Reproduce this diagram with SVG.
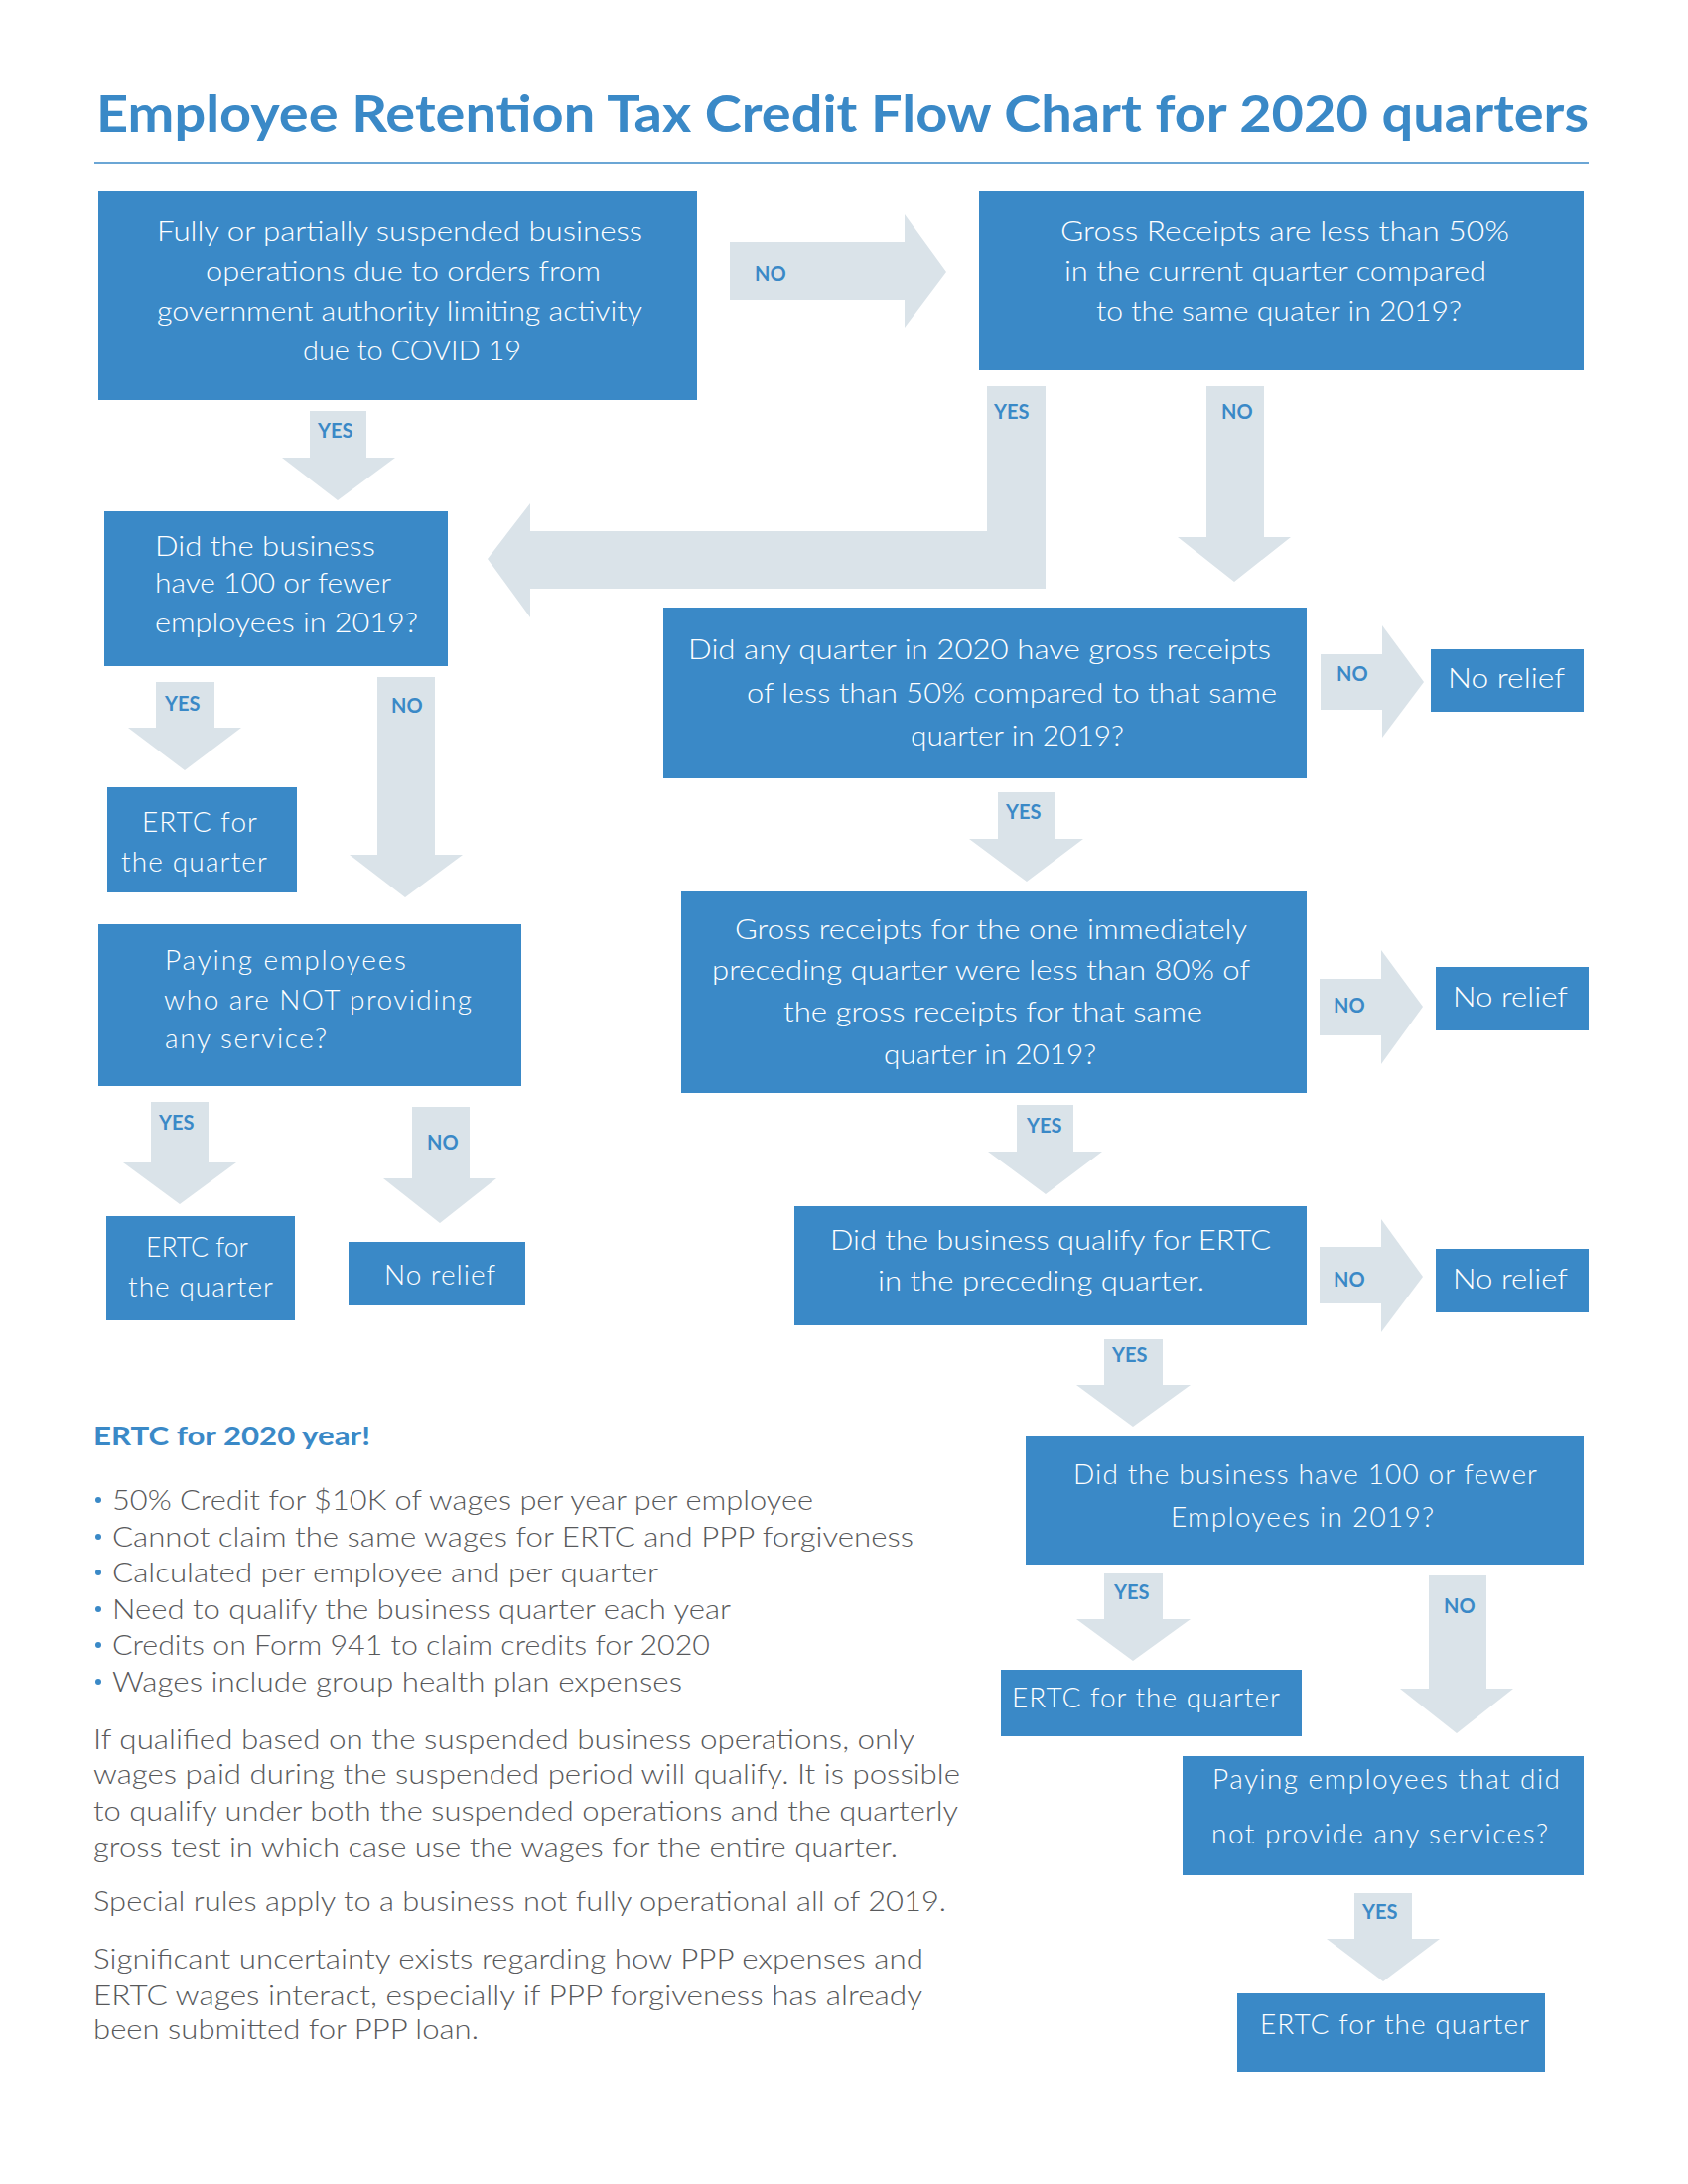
<svg xmlns="http://www.w3.org/2000/svg" width="1700" height="2200" viewBox="0 0 1700 2200">
<style>
.box{fill:#3a89c7}
.arr{fill:#dae3e9}
.bt{font-family:Lato,"Liberation Sans",sans-serif;font-weight:300;font-size:28px;fill:#ffffff}
.lbl{font-family:Lato,"Liberation Sans",sans-serif;font-weight:bold;font-size:20px;fill:#3a89c7}
.ttl{font-family:Lato,"Liberation Sans",sans-serif;font-weight:bold;font-size:51px;fill:#3a89c7}
.hd{font-family:Lato,"Liberation Sans",sans-serif;font-weight:bold;font-size:27px;fill:#3a89c7}
.body{font-family:Lato,"Liberation Sans",sans-serif;font-weight:300;font-size:27px;fill:#58595b}
.dot{fill:#3a89c7}
</style>
<rect width="1700" height="2200" fill="#ffffff"/>
<g id="title">
<text class="ttl" x="97" y="133" textLength="1503" lengthAdjust="spacingAndGlyphs">Employee Retention Tax Credit Flow Chart for 2020 quarters</text>
<line x1="95" y1="164" x2="1600" y2="164" stroke="#3a89c7" stroke-width="1.5"/>
</g>
<g id="connectors">
<polygon class="arr" points="312,414 369,414 369,461 398,461 340,504 284,461 312,461"/>
<text class="lbl" x="320" y="441">YES</text>
<polygon class="arr" points="735,244 911,244 911,216 953,274 911,330 911,302 735,302"/>
<text class="lbl" x="760" y="283">NO</text>
<polygon class="arr" points="994,389 1053,389 1053,593 534,593 534,622 491,563 534,507 534,535 994,535"/>
<text class="lbl" x="1001" y="422">YES</text>
<polygon class="arr" points="1215,389 1273,389 1273,541 1300,541 1243,586 1186,541 1215,541"/>
<text class="lbl" x="1230" y="422">NO</text>
<polygon class="arr" points="1330,659 1392,659 1392,630 1434,687 1392,743 1392,715 1330,715"/>
<text class="lbl" x="1346" y="686">NO</text>
<polygon class="arr" points="1005,798 1063,798 1063,845 1091,845 1034,888 976,845 1005,845"/>
<text class="lbl" x="1013" y="825">YES</text>
<polygon class="arr" points="1329,986 1391,986 1391,957 1433,1014 1391,1072 1391,1043 1329,1043"/>
<text class="lbl" x="1343" y="1020">NO</text>
<polygon class="arr" points="1024,1113 1081,1113 1081,1160 1110,1160 1053,1203 995,1160 1024,1160"/>
<text class="lbl" x="1034" y="1141">YES</text>
<polygon class="arr" points="1329,1256 1391,1256 1391,1228 1433,1286 1391,1342 1391,1313 1329,1313"/>
<text class="lbl" x="1343" y="1296">NO</text>
<polygon class="arr" points="1112,1349 1171,1349 1171,1395 1199,1395 1141,1437 1084,1395 1112,1395"/>
<text class="lbl" x="1120" y="1372">YES</text>
<polygon class="arr" points="157,687 216,687 216,733 243,733 186,776 129,733 157,733"/>
<text class="lbl" x="166" y="716">YES</text>
<polygon class="arr" points="380,682 438,682 438,861 466,861 408,904 352,861 380,861"/>
<text class="lbl" x="394" y="718">NO</text>
<polygon class="arr" points="152,1110 210,1110 210,1171 238,1171 181,1213 124,1171 152,1171"/>
<text class="lbl" x="160" y="1138">YES</text>
<polygon class="arr" points="415,1115 473,1115 473,1187 500,1187 443,1232 386,1187 415,1187"/>
<text class="lbl" x="430" y="1158">NO</text>
<polygon class="arr" points="1112,1585 1171,1585 1171,1631 1199,1631 1141,1673 1084,1631 1112,1631"/>
<text class="lbl" x="1122" y="1611">YES</text>
<polygon class="arr" points="1439,1587 1497,1587 1497,1701 1524,1701 1467,1746 1410,1701 1439,1701"/>
<text class="lbl" x="1454" y="1625">NO</text>
<polygon class="arr" points="1364,1907 1422,1907 1422,1953 1450,1953 1393,1996 1336,1953 1364,1953"/>
<text class="lbl" x="1372" y="1933">YES</text>
</g>
<g id="n1">
<rect class="box" x="99" y="192" width="603" height="211"/>
<text class="bt" x="158" y="243" textLength="489" lengthAdjust="spacingAndGlyphs">Fully or partially suspended business</text>
<text class="bt" x="207" y="283" textLength="398" lengthAdjust="spacingAndGlyphs">operations due to orders from</text>
<text class="bt" x="158" y="323" textLength="489" lengthAdjust="spacingAndGlyphs">government authority limiting activity</text>
<text class="bt" x="305" y="363" textLength="220" lengthAdjust="spacingAndGlyphs">due to COVID 19</text>
</g>
<g id="n2">
<rect class="box" x="986" y="192" width="609" height="181"/>
<text class="bt" x="1068" y="243" textLength="452" lengthAdjust="spacingAndGlyphs">Gross  Receipts are less than 50%</text>
<text class="bt" x="1072" y="283" textLength="425" lengthAdjust="spacingAndGlyphs">in the current quarter compared</text>
<text class="bt" x="1104" y="323" textLength="368" lengthAdjust="spacingAndGlyphs">to the same quater in 2019?</text>
</g>
<g id="n3">
<rect class="box" x="668" y="612" width="648" height="172"/>
<text class="bt" x="693" y="664" textLength="587" lengthAdjust="spacingAndGlyphs">Did any quarter in 2020 have gross receipts</text>
<text class="bt" x="752" y="708" textLength="534" lengthAdjust="spacingAndGlyphs">of less than 50% compared to that same</text>
<text class="bt" x="917" y="751" textLength="215" lengthAdjust="spacingAndGlyphs">quarter in 2019?</text>
</g>
<g id="n4">
<rect class="box" x="686" y="898" width="630" height="203"/>
<text class="bt" x="740" y="946" textLength="516" lengthAdjust="spacingAndGlyphs">Gross receipts for the one immediately</text>
<text class="bt" x="717" y="987" textLength="542" lengthAdjust="spacingAndGlyphs">preceding quarter were less than 80% of</text>
<text class="bt" x="789" y="1029" textLength="422" lengthAdjust="spacingAndGlyphs">the gross receipts for that same</text>
<text class="bt" x="890" y="1072" textLength="214" lengthAdjust="spacingAndGlyphs">quarter in 2019?</text>
</g>
<g id="n5">
<rect class="box" x="800" y="1215" width="516" height="120"/>
<text class="bt" x="836" y="1259" textLength="444" lengthAdjust="spacingAndGlyphs">Did the business qualify for ERTC</text>
<text class="bt" x="884" y="1300" textLength="329" lengthAdjust="spacingAndGlyphs">in the preceding quarter.</text>
</g>
<g id="nr1">
<rect class="box" x="1441" y="654" width="154" height="63"/>
<text class="bt" x="1458" y="693" textLength="118" lengthAdjust="spacingAndGlyphs">No relief</text>
</g>
<g id="nr2">
<rect class="box" x="1446" y="974" width="154" height="64"/>
<text class="bt" x="1463" y="1014" textLength="116" lengthAdjust="spacingAndGlyphs">No relief</text>
</g>
<g id="nr3">
<rect class="box" x="1446" y="1258" width="154" height="64"/>
<text class="bt" x="1463" y="1298" textLength="116" lengthAdjust="spacingAndGlyphs">No relief</text>
</g>
<g id="n6">
<rect class="box" x="1033" y="1447" width="562" height="129"/>
<text class="bt" x="1081" y="1495" textLength="467" lengthAdjust="spacing">Did the business have 100 or fewer</text>
<text class="bt" x="1179" y="1538" textLength="265" lengthAdjust="spacing">Employees in 2019?</text>
</g>
<g id="n7">
<rect class="box" x="1008" y="1682" width="303" height="67"/>
<text class="bt" x="1019" y="1720" textLength="270" lengthAdjust="spacing">ERTC for the quarter</text>
</g>
<g id="n8">
<rect class="box" x="1191" y="1769" width="404" height="120"/>
<text class="bt" x="1221" y="1802" textLength="350" lengthAdjust="spacing">Paying employees that did</text>
<text class="bt" x="1220" y="1857" textLength="339" lengthAdjust="spacing">not provide any services?</text>
</g>
<g id="n9">
<rect class="box" x="1246" y="2008" width="310" height="79"/>
<text class="bt" x="1269" y="2049" textLength="271" lengthAdjust="spacing">ERTC for the quarter</text>
</g>
<g id="n10">
<rect class="box" x="105" y="515" width="346" height="156"/>
<text class="bt" x="156" y="560" textLength="222" lengthAdjust="spacingAndGlyphs">Did the business</text>
<text class="bt" x="156" y="597" textLength="238" lengthAdjust="spacingAndGlyphs">have 100 or fewer</text>
<text class="bt" x="156" y="637" textLength="265" lengthAdjust="spacingAndGlyphs">employees in 2019?</text>
</g>
<g id="n11">
<rect class="box" x="108" y="793" width="191" height="106"/>
<text class="bt" x="143" y="838" textLength="116" lengthAdjust="spacing">ERTC for</text>
<text class="bt" x="122" y="878" textLength="147" lengthAdjust="spacing">the quarter</text>
</g>
<g id="n12">
<rect class="box" x="99" y="931" width="426" height="163"/>
<text class="bt" x="166" y="977" textLength="243" lengthAdjust="spacing">Paying employees</text>
<text class="bt" x="165" y="1017" textLength="310" lengthAdjust="spacing">who are NOT providing</text>
<text class="bt" x="166" y="1056" textLength="163" lengthAdjust="spacing">any service?</text>
</g>
<g id="n13">
<rect class="box" x="107" y="1225" width="190" height="105"/>
<text class="bt" x="147" y="1266" textLength="103" lengthAdjust="spacingAndGlyphs">ERTC for</text>
<text class="bt" x="129" y="1306" textLength="146" lengthAdjust="spacing">the quarter</text>
</g>
<g id="n14">
<rect class="box" x="351" y="1251" width="178" height="64"/>
<text class="bt" x="387" y="1294" textLength="112" lengthAdjust="spacing">No relief</text>
</g>
<g id="notes">
<text class="hd" x="94" y="1456" textLength="279" lengthAdjust="spacingAndGlyphs">ERTC for 2020 year!</text>
<circle class="dot" cx="99" cy="1511" r="3"/>
<circle class="dot" cx="99" cy="1548" r="3"/>
<circle class="dot" cx="99" cy="1584" r="3"/>
<circle class="dot" cx="99" cy="1621" r="3"/>
<circle class="dot" cx="99" cy="1657" r="3"/>
<circle class="dot" cx="99" cy="1694" r="3"/>
<text class="body" x="113" y="1521" textLength="706" lengthAdjust="spacingAndGlyphs">50% Credit for $10K of wages per year per employee</text>
<text class="body" x="113" y="1558" textLength="807" lengthAdjust="spacingAndGlyphs">Cannot claim the same wages for ERTC and PPP forgiveness</text>
<text class="body" x="113" y="1594" textLength="550" lengthAdjust="spacingAndGlyphs">Calculated per employee and per quarter</text>
<text class="body" x="113" y="1631" textLength="623" lengthAdjust="spacingAndGlyphs">Need to qualify the business quarter each year</text>
<text class="body" x="113" y="1667" textLength="602" lengthAdjust="spacingAndGlyphs">Credits on Form 941 to claim credits for 2020</text>
<text class="body" x="113" y="1704" textLength="574" lengthAdjust="spacingAndGlyphs">Wages include group health plan expenses</text>
<text class="body" x="94" y="1762" textLength="827" lengthAdjust="spacingAndGlyphs">If qualified based on the suspended business operations, only</text>
<text class="body" x="94" y="1797" textLength="873" lengthAdjust="spacingAndGlyphs">wages paid during the suspended period will qualify. It is possible</text>
<text class="body" x="94" y="1834" textLength="871" lengthAdjust="spacingAndGlyphs">to qualify under both the suspended operations and the quarterly</text>
<text class="body" x="94" y="1871" textLength="810" lengthAdjust="spacingAndGlyphs">gross test in which case use the wages for the entire quarter.</text>
<text class="body" x="94" y="1925" textLength="859" lengthAdjust="spacingAndGlyphs">Special rules apply to a business not fully operational all of 2019.</text>
<text class="body" x="94" y="1983" textLength="836" lengthAdjust="spacingAndGlyphs">Significant uncertainty exists regarding how PPP expenses and</text>
<text class="body" x="94" y="2020" textLength="835" lengthAdjust="spacingAndGlyphs">ERTC wages interact, especially if PPP forgiveness has already</text>
<text class="body" x="94" y="2054" textLength="388" lengthAdjust="spacingAndGlyphs">been submitted for PPP loan.</text>
</g>
</svg>
